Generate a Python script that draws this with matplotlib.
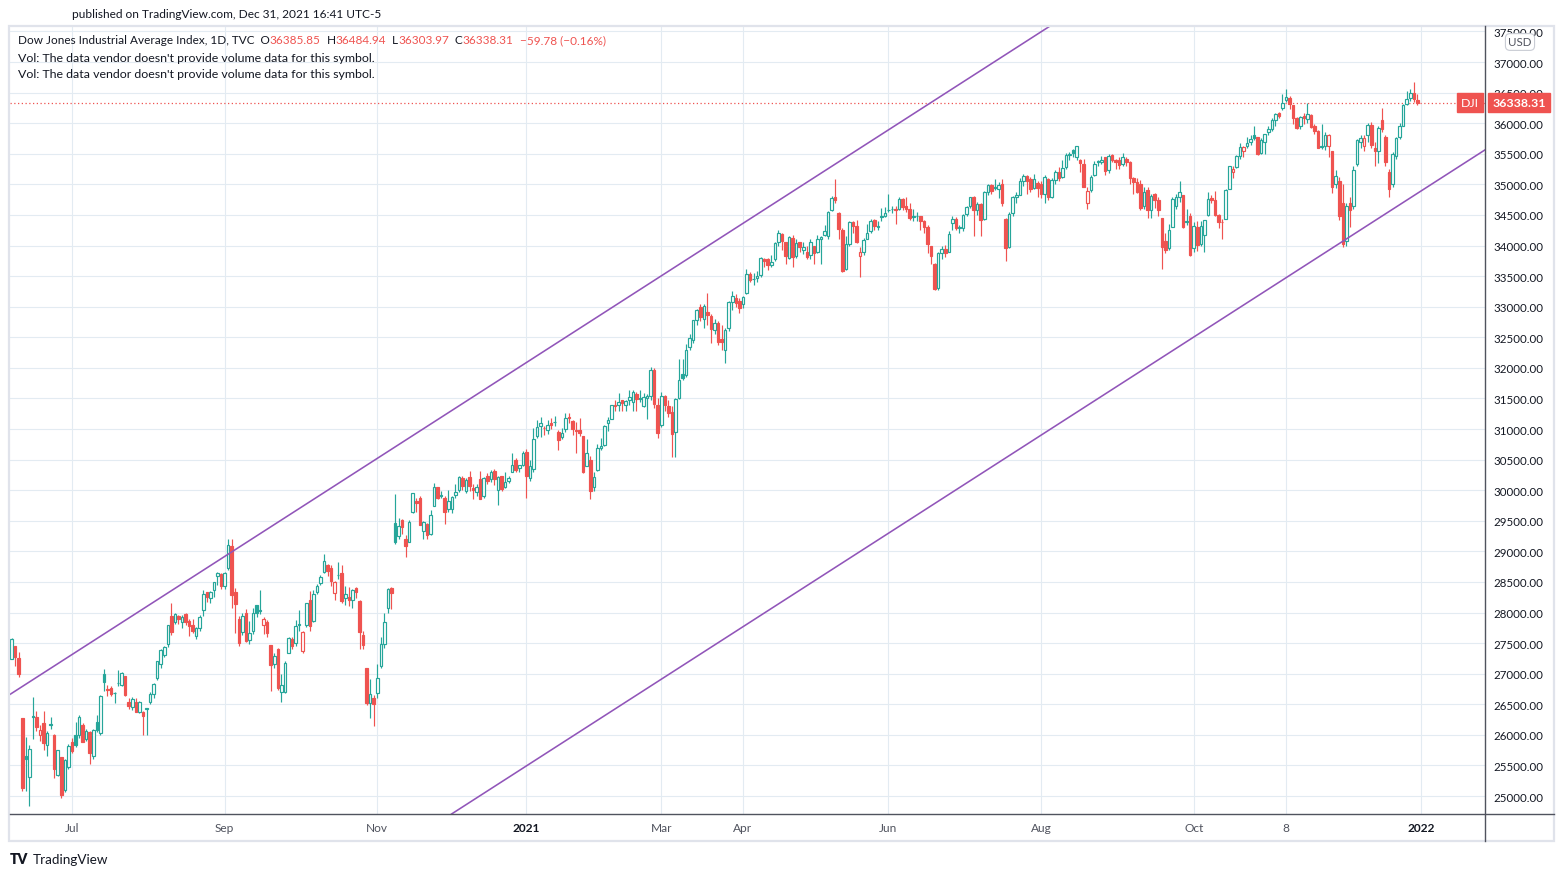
"""
Dow Jones Industrial Average, daily candles Jun 2020 - Dec 2021,
TradingView "hollow candles" style with a parallel trend channel.
"""
import matplotlib.pyplot as plt
import numpy as np
import pandas as pd
from matplotlib.lines import Line2D
from matplotlib.patches import Rectangle

W, H = 1565, 878

# NYSE holidays inside the window (bars are trading days only)
HOLIDAYS = ["2020-07-03", "2020-09-07", "2020-11-26", "2020-12-25", "2021-01-01",
            "2021-01-18", "2021-02-15", "2021-04-02", "2021-05-31", "2021-07-05",
            "2021-09-06", "2021-11-25", "2021-12-24"]

# one line per month
opens = [
    27232, 27447, 27251, 26282, 25659, 25313, 26315, 26290, 25990, 26200, 25830, 26180, 25995, 25350, 25630, 25100, 25480,
    25880, 25990, 25990, 26160, 25932, 26050, 25660, 26216, 26025, 27000, 26750, 26770, 26690, 26850, 26820, 26960, 26530, 26460, 26540, 26380, 26370, 26440,
    26530, 26660, 26930, 27160, 27310, 27480, 27950, 27850, 27935, 27840, 27970, 27860, 27800, 27620, 27740, 28040, 28330, 28230, 28360, 28590, 28630,
    28440, 28720, 29090, 28340, 27900, 27680, 27990, 27550, 27700, 28120, 28040, 27800, 27850, 27470, 27160, 27400, 26700, 26700, 27340, 27560, 27500,
    27800, 27370, 27800, 28210, 27860, 28340, 28490, 28660, 28770, 28720, 28320, 28620, 28640, 28240, 28260, 28200, 28400, 28190, 27630, 27090, 26520, 26600,
    26690, 27120, 27480, 28070, 28400, 29460, 29250, 29510, 29210, 29150, 29650, 29830, 29870, 29330, 29440, 29280, 29740, 30050, 29920, 29880,
    29700, 29690, 29920, 30000, 30200, 29980, 30210, 30040, 29970, 30190, 29900, 30240, 30180, 30320, 30000, 30230, 30050, 30150, 30300, 30500, 30370, 30420,
    30630, 30200, 30340, 30880, 31050, 31015, 30990, 31100, 31120, 30950, 30870, 31000, 31200, 31130, 30990, 30980, 30880, 30400, 30500,
    30050, 30330, 30690, 30740, 31100, 31170, 31390, 31400, 31480, 31400, 31470, 31450, 31570, 31500, 31380, 31500, 31540, 31960, 31400,
    31070, 31540, 31380, 31280, 30950, 31500, 31900, 31880, 32340, 32460, 32790, 32990, 32800, 32920, 32840, 32620, 32740, 32480, 32300, 32650, 33080, 33140, 33100,
    33050, 33220, 33540, 33450, 33470, 33520, 33780, 33780, 33690, 33780, 34060, 34190, 34050, 33800, 34120, 33830, 34050, 33930, 33900, 33850, 34000,
    33900, 34100, 34180, 34160, 34580, 34800, 34540, 34260, 33620, 34030, 34390, 34320, 33830, 33900, 34110, 34230, 34420, 34300, 34480, 34480,
    34580, 34590, 34600, 34600, 34760, 34650, 34600, 34480, 34490, 34480, 34400, 34310, 33990, 33700, 33300, 33880, 33950, 33900, 34370, 34440, 34300, 34290,
    34510, 34640, 34790, 34580, 34680, 34430, 34880, 34990, 34960, 34920, 35010, 34430, 33980, 34530, 34790, 34830, 35060, 35140, 35090, 34940, 35030,
    35000, 34850, 35080, 34800, 35070, 35210, 35120, 35280, 35480, 35560, 35440, 35400, 35330, 34700, 34900, 35160, 35380, 35370, 35440, 35230, 35480, 35400,
    35400, 35330, 35420, 35370, 35100, 35040, 35000, 34650, 34900, 34580, 34840, 34750, 34450, 34070, 33960, 34300, 34650, 34790, 34830, 34400, 34480,
    33960, 34300, 34020, 34180, 34500, 34780, 34740, 34500, 34390, 34440, 34930, 35210, 35280, 35470, 35550, 35620, 35700, 35800, 35780, 35520, 35700,
    35850, 35900, 36050, 36160, 36250, 36380, 36420, 36300, 36080, 35950, 36120, 36070, 36140, 35950, 35870, 35630, 35620, 35620, 35540, 35000, 35050,
    34700, 34080, 34700, 34650, 35340, 35700, 35620, 35800, 35970, 35600, 35540, 36060, 35780, 35200, 35000, 35470, 35770, 35960, 36320, 36420, 36500, 36385.85,
]
highs = [
    27580, 27447, 27355, 26282, 25965, 25837, 26611, 26395, 26160, 26395, 26060, 26290, 26020, 25760, 25640, 25600, 25850,
    25950, 26205, 26330, 26200, 26100, 26060, 26100, 26320, 26650, 27070, 26820, 26800, 26700, 27060, 27020, 26965, 26600, 26620, 26600, 26560, 26390, 26440,
    26700, 26840, 27210, 27400, 27450, 27800, 28150, 28000, 27960, 27960, 28000, 27900, 27900, 27760, 27960, 28360, 28340, 28350, 28500, 28660, 28640,
    28660, 29199, 29199, 28400, 27950, 27990, 28060, 27860, 28070, 28130, 28370, 27930, 27880, 27470, 27330, 27420, 27000, 27200, 27600, 27600, 27880,
    28040, 27700, 28160, 28350, 28370, 28460, 28620, 28960, 28790, 28770, 28510, 28830, 28780, 28440, 28420, 28380, 28420, 28200, 27700, 27100, 26920, 26650,
    27160, 27600, 28000, 28400, 28420, 29933, 29550, 29530, 29260, 29510, 29960, 29880, 29900, 29500, 29470, 29680, 30120, 30060, 29990, 29900,
    30000, 29900, 30100, 30230, 30230, 30200, 30320, 30100, 30100, 30320, 30210, 30280, 30330, 30340, 30240, 30240, 30300, 30240, 30600, 30530, 30420, 30640,
    30670, 30500, 31020, 31150, 31190, 31050, 31150, 31180, 31220, 30980, 31020, 31270, 31260, 31140, 31120, 31180, 30890, 30830, 30560,
    30300, 30760, 30860, 31070, 31200, 31400, 31470, 31590, 31480, 31470, 31640, 31630, 31600, 31640, 31590, 31580, 32010, 31995, 31500,
    31600, 31560, 31470, 31380, 31500, 32150, 32150, 32390, 32560, 32790, 32960, 33050, 33050, 33230, 32880, 32800, 32760, 32700, 32650, 33090, 33260, 33200, 33150,
    33170, 33620, 33560, 33550, 33590, 33810, 33800, 33790, 33850, 34050, 34260, 34200, 34060, 34160, 34170, 34100, 34060, 34050, 34000, 34110, 34000,
    34170, 34150, 34340, 34560, 34810, 35091, 34550, 34280, 34150, 34400, 34400, 34420, 33980, 34120, 34360, 34430, 34440, 34400, 34620, 34630,
    34850, 34640, 34640, 34790, 34770, 34800, 34690, 34600, 34550, 34490, 34420, 34330, 34000, 33720, 33900, 34000, 34010, 34230, 34480, 34460, 34340, 34520,
    34650, 34800, 34810, 34720, 34690, 34890, 35010, 35000, 35080, 35040, 35090, 34450, 34550, 34810, 34880, 35100, 35170, 35150, 35120, 35170, 35050,
    35060, 35150, 35100, 35100, 35230, 35280, 35400, 35510, 35530, 35580, 35630, 35420, 35420, 34960, 35160, 35390, 35400, 35460, 35450, 35490, 35490, 35420,
    35450, 35520, 35450, 35390, 35120, 35110, 35070, 34950, 34950, 34850, 34860, 34800, 34450, 34200, 34350, 34800, 34850, 35050, 34830, 34600, 34530,
    34390, 34400, 34400, 34420, 34880, 34830, 34890, 34520, 34430, 34930, 35300, 35300, 35480, 35670, 35620, 35770, 35800, 35950, 35780, 35760, 35830,
    35950, 36080, 36170, 36180, 36480, 36565, 36440, 36300, 36100, 36120, 36170, 36330, 36150, 35990, 35890, 35990, 35860, 35820, 35540, 35230, 35120,
    35000, 34700, 34800, 35300, 35750, 35800, 35800, 36000, 36020, 35700, 35960, 36250, 35800, 35250, 35530, 35780, 36000, 36320, 36530, 36560, 36680, 36484.94,
]
lows = [
    27232, 27118, 26944, 25082, 25082, 24843, 25925, 26060, 25898, 25750, 25660, 26100, 25300, 25320, 24960, 25070, 25440,
    25700, 25800, 25950, 25880, 25900, 25520, 25600, 26040, 26000, 26720, 26640, 26640, 26520, 26800, 26800, 26640, 26420, 26400, 26370, 26360, 25990, 26000,
    26500, 26600, 26900, 27100, 27270, 27430, 27640, 27820, 27820, 27750, 27800, 27620, 27670, 27560, 27700, 27950, 28180, 28150, 28250, 28450, 28390,
    28380, 28700, 28070, 27660, 27450, 27640, 27520, 27480, 27650, 27920, 27980, 27650, 27600, 26710, 27100, 26730, 26540, 26680, 27330, 27400, 27450,
    27690, 27330, 27760, 27700, 27840, 28300, 28450, 28640, 28600, 28430, 28210, 28540, 28150, 28130, 28100, 28070, 28230, 27400, 27400, 26490, 26270, 26140,
    26600, 27100, 27420, 28000, 28050, 29120, 29200, 29290, 28900, 29150, 29620, 29640, 29430, 29200, 29200, 29260, 29740, 29860, 29870, 29450,
    29650, 29620, 29880, 29970, 30000, 29950, 29980, 29850, 29900, 29850, 29880, 30100, 30140, 30090, 29750, 29990, 30030, 30120, 30290, 30300, 30300, 30390,
    29880, 30150, 30300, 30850, 30870, 30900, 30920, 31000, 31050, 30650, 30840, 30950, 31100, 30900, 30600, 30880, 30280, 30400, 29860,
    29990, 30320, 30650, 30720, 30960, 31170, 31300, 31300, 31300, 31290, 31400, 31300, 31300, 31440, 31360, 31170, 31480, 31350, 30850,
    31040, 31300, 31200, 30550, 30550, 31490, 31800, 31850, 32300, 32400, 32700, 32770, 32650, 32700, 32400, 32550, 32370, 32300, 32080, 32600, 32950, 32990, 32900,
    32980, 33200, 33400, 33350, 33400, 33480, 33650, 33600, 33650, 33750, 34000, 33920, 33700, 33780, 33650, 33800, 33900, 33860, 33780, 33780, 33700,
    33880, 33700, 34150, 34100, 34570, 34700, 34100, 33560, 33600, 34000, 34200, 34040, 33480, 33850, 34100, 34200, 34250, 34250, 34400, 34470,
    34550, 34530, 34350, 34580, 34580, 34550, 34420, 34400, 34400, 34250, 34200, 33880, 33700, 33270, 33270, 33780, 33820, 33890, 34250, 34250, 34200, 34230,
    34480, 34620, 34150, 34500, 34150, 34420, 34820, 34850, 34900, 34780, 34640, 33740, 33960, 34480, 34700, 34820, 34980, 34850, 34880, 34930, 34800,
    34770, 34700, 34750, 34780, 35000, 35050, 35100, 35250, 35400, 35450, 35400, 35200, 34950, 34600, 34880, 35130, 35300, 35330, 35150, 35180, 35360, 35250,
    35250, 35300, 35300, 35000, 34850, 34860, 34580, 34600, 34450, 34450, 34620, 34480, 33610, 33870, 33930, 34300, 34590, 34720, 34290, 34330, 33830,
    33900, 33910, 34000, 33900, 34490, 34700, 34480, 34290, 34100, 34430, 34920, 35100, 35260, 35410, 35450, 35590, 35650, 35730, 35480, 35500, 35500,
    35810, 35880, 35950, 36080, 36220, 36350, 36240, 35980, 35900, 35900, 35990, 36000, 35920, 35820, 35590, 35580, 35560, 35440, 34860, 34940, 34410,
    33980, 34000, 34300, 34600, 35300, 35600, 35550, 35700, 35600, 35300, 35350, 35850, 35300, 34800, 34950, 35420, 35750, 35950, 36300, 36370, 36350, 36303.97,
]
closes = [
    27572, 27272, 26990, 25128, 25606, 25763, 26290, 26120, 26080, 25871, 26025, 26156, 25445, 25745, 25016, 25596, 25813,
    25735, 25827, 26287, 25890, 26067, 25706, 26075, 26086, 26643, 26870, 26735, 26672, 26680, 26840, 27005, 26652, 26470, 26584, 26379, 26540, 26314, 26428,
    26664, 26828, 27201, 27387, 27433, 27791, 27686, 27976, 27896, 27931, 27844, 27778, 27692, 27739, 27930, 28308, 28248, 28331, 28492, 28653, 28430,
    28645, 29100, 28292, 28133, 27500, 27940, 27535, 27666, 27993, 27995, 28032, 27902, 27657, 27147, 27288, 26763, 26815, 27174, 27584, 27452, 27782,
    27817, 27683, 28149, 27773, 28303, 28426, 28587, 28838, 28680, 28515, 28494, 28606, 28195, 28309, 28211, 28364, 28336, 27685, 27463, 26520, 26660, 26502,
    26925, 27481, 27848, 28390, 28323, 29158, 29421, 29398, 29080, 29480, 29950, 29784, 29438, 29483, 29263, 29591, 30046, 29872, 29910, 29639,
    29823, 29883, 29969, 30218, 30070, 30174, 30068, 29999, 30046, 29861, 30200, 30155, 30304, 30179, 30216, 30016, 30130, 30200, 30404, 30336, 30409, 30606,
    30224, 30392, 30829, 31041, 31098, 31009, 31069, 31061, 31113, 30814, 30930, 31188, 31176, 30997, 30960, 30937, 30303, 30603, 29983,
    30212, 30688, 30724, 31056, 31148, 31386, 31375, 31438, 31431, 31458, 31523, 31613, 31493, 31494, 31522, 31537, 31962, 31402, 30932,
    31535, 31391, 31270, 30924, 31496, 31802, 31833, 32297, 32485, 32779, 32953, 32826, 33015, 32862, 32628, 32731, 32423, 32420, 32619, 33072, 33171, 33066, 32982,
    33153, 33527, 33430, 33446, 33504, 33801, 33746, 33677, 33730, 34036, 34200, 34078, 33822, 34137, 33815, 34043, 33981, 33984, 33820, 34060, 33875,
    34113, 34133, 34230, 34548, 34778, 34743, 34270, 33587, 34021, 34382, 34327, 34060, 33896, 34084, 34208, 34394, 34312, 34323, 34465, 34529,
    34575, 34600, 34577, 34756, 34630, 34600, 34447, 34466, 34480, 34394, 34299, 34033, 33823, 33290, 33876, 33945, 33874, 34196, 34433, 34283, 34292, 34503,
    34633, 34786, 34577, 34681, 34422, 34870, 34996, 34889, 34933, 34987, 34688, 33962, 34512, 34798, 34823, 35062, 35144, 35058, 34931, 35085, 34935,
    34838, 35117, 34793, 35065, 35209, 35102, 35265, 35485, 35500, 35516, 35626, 35344, 34961, 34894, 35120, 35336, 35367, 35406, 35214, 35456, 35400, 35361,
    35313, 35444, 35369, 35100, 35031, 34879, 34608, 34870, 34578, 34814, 34751, 34584, 33970, 33919, 34258, 34765, 34798, 34870, 34300, 34390, 33844,
    34326, 34003, 34315, 34417, 34755, 34746, 34497, 34378, 34377, 34913, 35295, 35259, 35458, 35610, 35603, 35677, 35742, 35757, 35491, 35731, 35820,
    35913, 36053, 36158, 36124, 36328, 36432, 36320, 36080, 35921, 36100, 36087, 36143, 35931, 35871, 35602, 35619, 35814, 35804, 34950, 35136, 34484,
    34022, 34640, 34580, 35227, 35719, 35755, 35754, 35971, 35650, 35544, 35927, 35898, 35365, 34932, 35493, 35754, 35950, 36302, 36398, 36488, 36398.09, 36338.31,
]

time_labels = ["Jul", "Sep", "Nov", "2021", "Mar", "Apr", "Jun", "Aug", "Oct", "8", "2022"]
time_label_dates = ["2020-07-01", "2020-09-01", "2020-11-02", "2021-01-04", "2021-03-01", "2021-04-01",
                    "2021-06-01", "2021-08-02", "2021-10-01", "2021-11-08", "2022-01-03"]
year_labels = {"2021", "2022"}
price_ticks = [25000, 25500, 26000, 26500, 27000, 27500, 28000, 28500, 29000, 29500, 30000, 30500,
               31000, 31500, 32000, 32500, 33000, 33500, 34000, 34500, 35000, 35500, 36000, 36500, 37000, 37500]

# trend channel, two anchor points each: (bar index, price)
upper_channel = [(0, 26678), (290, 37495)]
lower_channel = [(150, 25678), (390, 34630)]

UP = "#26a69a"
DOWN = "#ef5350"
GRID = "#e3ebf2"
AXIS_LINE = "#50535e"
TEXT = "#131722"
CHANNEL = "#9155b9"
FONT = "Lato"
FS = 8.9


def px(x, y):
    """pixel position (from the top-left) -> figure fraction"""
    return x / W, 1 - y / H


def draw_candles(ax, o, h, l, c):
    idx = np.arange(len(c))
    prev = np.concatenate([[o[0]], c[:-1]])
    colors = np.where(c >= prev, UP, DOWN)
    faces = np.where(c >= o, "white", colors)
    ax.vlines(idx, l, h, colors=colors, linewidth=0.85, zorder=3)
    bottoms = np.minimum(o, c)
    heights = np.maximum(np.abs(c - o), 6)
    ax.bar(idx, heights, bottom=bottoms, width=0.72, color=faces, edgecolor=colors,
           linewidth=0.85, zorder=4)


def text_run(fig, x, y, parts, size):
    renderer = fig.canvas.get_renderer()
    for chunk, color in parts:
        t = fig.text(*px(x, y), chunk, color=color, fontsize=size, va="center", ha="left")
        x += t.get_window_extent(renderer=renderer).width * W / fig.bbox.width


def main():
    dates = pd.bdate_range("2020-06-08", "2021-12-31", freq="C", holidays=HOLIDAYS)
    o = np.array(opens, dtype=float)
    h = np.array(highs, dtype=float)
    l = np.array(lows, dtype=float)
    c = np.array(closes, dtype=float)
    assert len(o) == len(h) == len(l) == len(c) == len(dates), (len(o), len(h), len(l), len(c), len(dates))

    plt.rcParams["font.family"] = [FONT, "DejaVu Sans"]
    fig = plt.figure(figsize=(W / 100, H / 100), dpi=100)
    ax = fig.add_axes([10 / W, (H - 815) / H, 1475 / W, 788 / H])

    # scales: 3.55 px per bar, first bar at x=11.6 px
    ax.set_xlim((10 - 11.6) / 3.55, (1485 - 11.6) / 3.55)
    ax.set_ylim(25000 - 18 * 16.35, 25000 + 770 * 16.35)

    draw_candles(ax, o, h, l, c)

    for (x0, y0), (x1, y1) in (upper_channel, lower_channel):
        ax.axline((x0, y0), (x1, y1), color=CHANNEL, linewidth=1.15, zorder=5)

    # last price marker
    ax.axhline(c[-1], color=DOWN, linestyle=(0, (1, 2)), linewidth=0.9, zorder=2)

    # grid + ticks
    tick_pos = np.searchsorted(dates.values, pd.to_datetime(time_label_dates).values)
    ax.set_xticks(tick_pos)
    ax.set_xticklabels(time_labels)
    for lab in ax.get_xticklabels():
        lab.set_color(TEXT if lab.get_text() in year_labels else AXIS_LINE)
        if lab.get_text() in year_labels:
            lab.set_fontweight("bold")
    ax.set_yticks(price_ticks)
    ax.set_yticklabels([f"{p:.2f}" for p in price_ticks])
    ax.yaxis.tick_right()
    ax.tick_params(axis="y", length=0, pad=6.3, labelsize=FS - 0.6, labelcolor=TEXT)
    ax.tick_params(axis="x", length=0, pad=5.5, labelsize=FS - 0.3)
    ax.grid(True, color=GRID, linewidth=0.8)
    ax.set_axisbelow(True)
    for side in ("top", "left", "right", "bottom"):
        ax.spines[side].set_visible(False)

    # price labels are cut off by the top of the frame
    clip = Rectangle(px(1486, 815), 68 / W, 787 / H, transform=fig.transFigure, visible=False)
    fig.add_artist(clip)
    for lab in ax.get_yticklabels():
        lab.set_clip_path(clip)

    # frame, axis separators
    fig.add_artist(Rectangle(px(9, 842), 1545 / W, 815 / H, fill=False, edgecolor="#e0e3eb",
                             linewidth=1.6, transform=fig.transFigure))
    fig.add_artist(Line2D([10 / W, 1554 / W], [px(0, 815)[1]] * 2, color=AXIS_LINE, linewidth=1.0))
    fig.add_artist(Line2D([1485 / W] * 2, [px(0, 27)[1], px(0, 842)[1]], color=AXIS_LINE, linewidth=1.0))

    # price tags
    tag_y = ax.transData.transform((0, c[-1]))[1] / fig.bbox.height
    fig.text(1519 / W, tag_y, f"{c[-1]:.2f}", color="white", fontsize=FS, fontweight="bold",
             va="center", ha="center",
             bbox=dict(boxstyle="square,pad=0.32", facecolor=DOWN, edgecolor=DOWN))
    fig.text(1470 / W, tag_y, "DJI", color="white", fontsize=FS, va="center", ha="center",
             bbox=dict(boxstyle="square,pad=0.32", facecolor=DOWN, edgecolor=DOWN))
    fig.text(*px(1520, 43), "USD", color=AXIS_LINE, fontsize=FS - 0.6, va="center", ha="center",
             bbox=dict(boxstyle="round,pad=0.25,rounding_size=0.4", facecolor="white",
                       edgecolor="#c9ccd4", linewidth=0.8))

    # header / legend
    fig.text(*px(72, 14), "published on TradingView.com, Dec 31, 2021 16:41 UTC-5", color=TEXT,
             fontsize=FS - 0.35, va="center", ha="left")
    change = c[-1] - c[-2]
    pct = change / c[-2] * 100
    text_run(fig, 18, 41, [
        ("Dow Jones Industrial Average Index, 1D, TVC  O", TEXT), (f"{o[-1]:.2f}", DOWN),
        ("  H", TEXT), (f"{h[-1]:.2f}", DOWN),
        ("  L", TEXT), (f"{l[-1]:.2f}", DOWN),
        ("  C", TEXT), (f"{c[-1]:.2f}", DOWN),
        (f"  \u2212{abs(change):.2f} (\u2212{abs(pct):.2f}%)", DOWN),
    ], FS - 0.45)
    for y in (58, 75):
        fig.text(*px(18, y), "Vol: The data vendor doesn't provide volume data for this symbol.",
                 color=TEXT, fontsize=FS, va="center", ha="left")

    # footer
    fig.text(*px(10, 860), "TV", color=TEXT, fontsize=10, fontweight="heavy", va="center", ha="left")
    fig.text(*px(33, 860), "TradingView", color=TEXT, fontsize=FS + 0.8, va="center", ha="left")

    fig.savefig("out.png", dpi=100, facecolor="white")
    plt.close(fig)


if __name__ == "__main__":
    main()
